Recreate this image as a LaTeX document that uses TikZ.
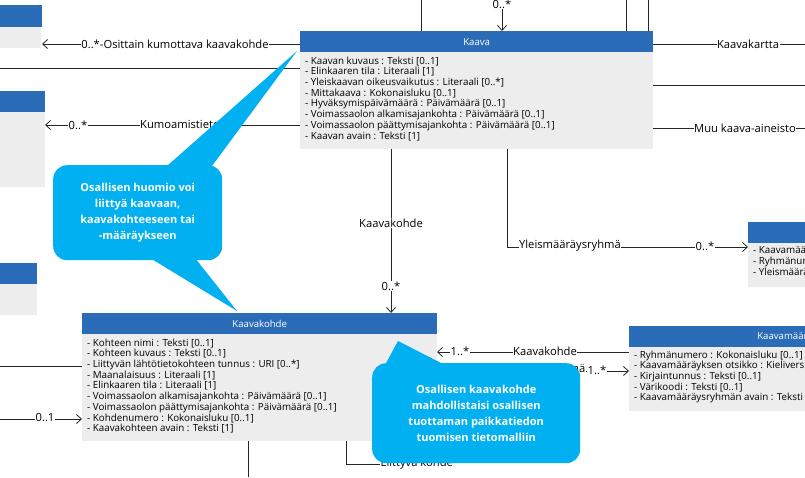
\documentclass[tikz,border=0pt]{standalone}
\usepackage{fontspec}
\setmainfont{Open Sans}
\usetikzlibrary{arrows.meta}
\definecolor{hdr}{HTML}{2B6CB8}
\definecolor{bdy}{HTML}{EDEDED}
\definecolor{call}{HTML}{00B0F0}
\tikzset{
 hd/.style={fill=hdr,draw=none,anchor=north west,inner sep=0,text=white,font=\fontsize{9.6}{10}\selectfont},
 bd/.style={fill=bdy,draw=none,anchor=north west,inner sep=0},
 att/.style={anchor=north west,align=left,inner sep=0,font=\fontsize{9.8}{10.7}\selectfont},
 lbl/.style={font=\fontsize{11.2}{12}\selectfont,fill=white,inner sep=0.5pt},
 ln/.style={line width=0.8pt,draw=black!85},
 ar/.style={ln,-{Straight Barb[length=5pt,width=9pt]}},
 ctext/.style={text=white,font=\bfseries\fontsize{11}{16}\selectfont,align=center},
}
\begin{document}
\begin{tikzpicture}[x=1pt,y=-1pt]
\useasboundingbox (0,0) rectangle (805,477);
\clip (0,0) rectangle (805,477);
\fill[white] (0,0) rectangle (805,477);
% --- boxes
\node[bd,minimum width=42,minimum height=21] (b1) at (-1,27) {};
\node[hd,minimum width=43,minimum height=22] (h1) at (-1,5) {};
\node[bd,minimum width=46,minimum height=75] (b2) at (-1,112) {};
\node[hd,minimum width=46,minimum height=21] (h2) at (-1,91) {};
\node[bd,minimum width=38,minimum height=31] (b3) at (-1,284) {};
\node[hd,minimum width=38,minimum height=21] (h3) at (-1,263) {};
% Kaava
\node[bd,minimum width=353,minimum height=97] (kb) at (300,52) {};
\node[hd,minimum width=353,minimum height=21] (kh) at (300,31) {Kaava};
\node[att] (ka) at (305,56.5) {- Kaavan kuvaus : Teksti [0..1]\\- Elinkaaren tila : Literaali [1]\\- Yleiskaavan oikeusvaikutus : Literaali [0..*]\\- Mittakaava : Kokonaisluku [0..1]\\- Hyväksymispäivämäärä : Päivämäärä [0..1]\\- Voimassaolon alkamisajankohta : Päivämäärä [0..1]\\- Voimassaolon päättymisajankohta : Päivämäärä [0..1]\\- Kaavan avain : Teksti [1]};
% right small box
\node[bd,minimum width=80,minimum height=44] (rb) at (748,243) {};
\node[hd,minimum width=80,minimum height=21] (rh) at (748,222) {};
\node[att] (ra) at (753,246.5) {- Kaavamääräys\\- Ryhmänumero\\- Yleismääräys};
% Kaavakohde
\node[bd,minimum width=355,minimum height=107] (kkb) at (82,334) {};
\node[hd,minimum width=355,minimum height=21] (kkh) at (82,313) {Kaavakohde};
\node[att] (kka) at (87,338.5) {- Kohteen nimi : Teksti [0..1]\\- Kohteen kuvaus : Teksti [0..1]\\- Liittyvän lähtötietokohteen tunnus : URI [0..*]\\- Maanalaisuus : Literaali [1]\\- Elinkaaren tila : Literaali [1]\\- Voimassaolon alkamisajankohta : Päivämäärä [0..1]\\- Voimassaolon päättymisajankohta : Päivämäärä [0..1]\\- Kohdenumero : Kokonaisluku [0..1]\\- Kaavakohteen avain : Teksti [1]};
% Kaavamääräysryhmä
\node[bd,minimum width=200,minimum height=64] (mb) at (629,347) {};
\node[hd,minimum width=260,minimum height=21] (mh) at (629,326) {\hspace*{90pt}Kaavamääräysryhmä};
\node[att] (ma) at (634,350.5) {- Ryhmänumero : Kokonaisluku [0..1]\\- Kaavamääräyksen otsikko : Kieliversioitu teksti\\- Kirjaintunnus : Teksti [0..1]\\- Värikoodi : Teksti [0..1]\\- Kaavamääräysryhmän avain : Teksti [1]};
% --- coordinates
\coordinate (t1) at (421,0); \coordinate (t1b) at (421,31);
\coordinate (t2) at (502,0); \coordinate (t2b) at (502,31);
\coordinate (t3) at (626,0); \coordinate (t3b) at (626,31);
\coordinate (t4) at (648,0); \coordinate (t4b) at (648,31);
\coordinate (r1) at (805,44); \coordinate (r2) at (805,85); \coordinate (r3) at (805,128);
\coordinate (l1) at (0,68); \coordinate (l2) at (0,366); \coordinate (l3) at (0,419);
\coordinate (d1) at (248,477);
% --- connectors
\draw[ln] (t1) -- (t1b);
\draw[ar] (t2) -- (t2b);
\node[lbl] (m0) at (502,4) {0..*};
\draw[ln] (t3) -- (t3b);
\draw[ln] (t4) -- (t4b);
\draw[ar] (300,44) -- (42,44);
\node[lbl] at (175,44) {0..*-Osittain kumottava kaavakohde};
\draw[ln] (l1) -- (300,68);
\draw[ar] (300,125) -- (45,125);
\node[lbl] at (78,125) {0..*};
\node[lbl] at (180,124) {Kumoamistieto};
\draw[ln] (653,44) -- (r1);
\node[lbl] at (748,44) {Kaavakartta};
\draw[ln] (653,85) -- (r2);
\draw[ln] (653,128) -- (r3);
\node[lbl] at (745,128) {Muu kaava-aineisto};
\draw[ar] (507,149) |- (748,247);
\node[lbl] at (570,246) {Yleismääräysryhmä};
\node[lbl] at (705,246) {0..*};
\draw[ar] (391,149) -- (391,313);
\node[lbl] at (391,223) {Kaavakohde};
\node[lbl] at (391,286) {0..*};
\draw[ln] (l2) -- (82,366);
\draw[ar] (l3) -- (82,419);
\node[lbl] at (45,418) {0..1};
\draw[ln] (248,441) -- (d1);
\draw[ln] (346,441) |- (380,464);
\node[lbl,anchor=west] at (380,464) {Liittyvä kohde};
\draw[ar] (629,352) -- (437,352);
\node[lbl] at (460,351) {1..*};
\node[lbl] at (545,351) {Kaavakohde};
\draw[ar] (437,371) -- (629,371);
\node[lbl,anchor=east] at (586,370) {Kaavamääräysryhmä};
\node[lbl] at (597,370) {1..*};
% --- callouts
\fill[call] (167,166) -- (297,51) -- (212,166) -- cycle;
\fill[call] (150,258) -- (237,311) -- (195,258) -- cycle;
\node[fill=call,rounded corners=14pt,minimum width=169,minimum height=95,anchor=north west,inner sep=0] (c1) at (53,165) {};
\node[ctext] at (c1.center) {Osallisen huomio voi\\liittyä kaavaan,\\kaavakohteeseen tai\\-määräykseen};
\fill[call] (385,365) -- (398,341) -- (445,365) -- cycle;
\node[fill=call,rounded corners=14pt,minimum width=208,minimum height=100,anchor=north west,inner sep=0] (c2) at (372,363) {};
\node[ctext] at (c2.center) {Osallisen kaavakohde\\mahdollistaisi osallisen\\tuottaman paikkatiedon\\tuomisen tietomalliin};
\end{tikzpicture}
\end{document}
